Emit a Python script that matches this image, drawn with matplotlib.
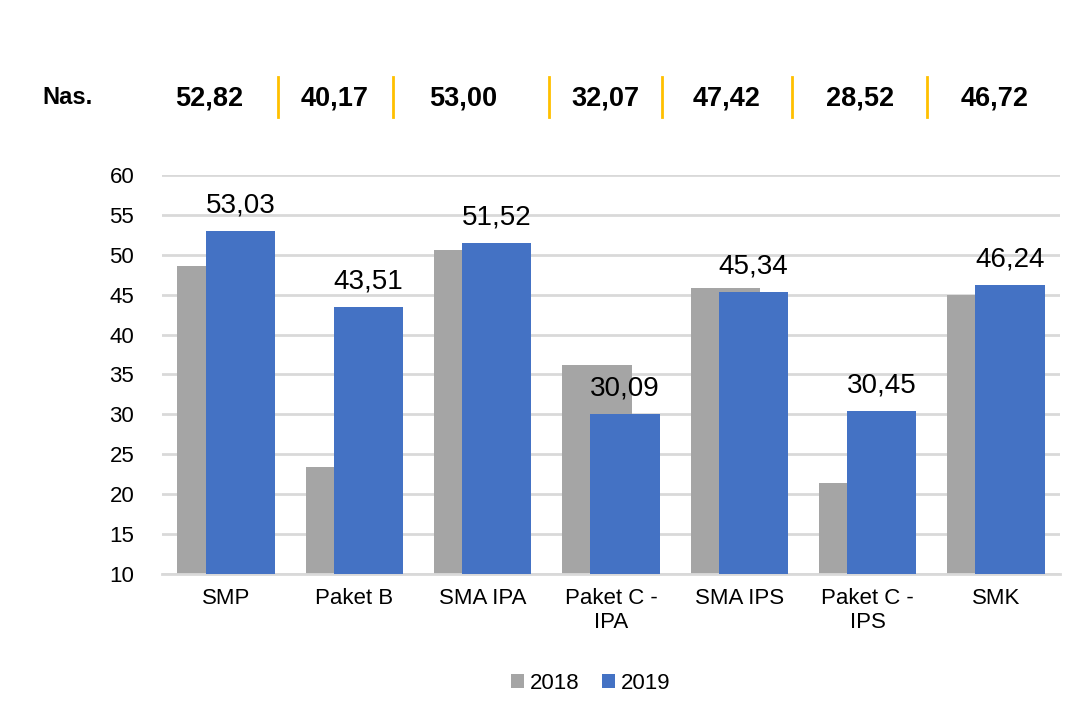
import numpy as np
import matplotlib
matplotlib.use('Agg')
import matplotlib.pyplot as plt

plt.rcParams['font.family'] = ['Liberation Sans', 'DejaVu Sans']

categories = ['SMP', 'Paket B', 'SMA IPA', 'Paket C -\nIPA', 'SMA IPS', 'Paket C -\nIPS', 'SMK']
vals_2018 = [48.6, 23.4, 50.6, 36.2, 45.9, 21.4, 44.9]
vals_2019 = [53.03, 43.51, 51.52, 30.09, 45.34, 30.45, 46.24]
labels_2019 = ['53,03', '43,51', '51,52', '30,09', '45,34', '30,45', '46,24']
nas_values = ['52,82', '40,17', '53,00', '32,07', '47,42', '28,52', '46,72']

# Figure, 1078x717 px
fig = plt.figure(figsize=(10.78, 7.17), dpi=100)
W, H = 1078, 717
ax = fig.add_axes([162 / W, 1 - 574 / H, 898 / W, 399 / H])

x = np.arange(len(categories))
w = 0.54
ax.bar(x - 0.11, vals_2018, width=w, color='#A5A5A5', label='2018', zorder=2)
bars = ax.bar(x + 0.11, vals_2019, width=w, color='#4472C4', label='2019', zorder=3)

for b, lab in zip(bars, labels_2019):
    ax.annotate(lab, (b.get_x() + b.get_width() / 2, b.get_height()),
                xytext=(0, 9), textcoords='offset points',
                ha='center', va='bottom', fontsize=20, zorder=4)

ax.set_ylim(10, 60)
ax.set_xlim(-0.5, 6.5)
ax.set_yticks(range(10, 61, 5))
ax.set_xticks(x)
ax.set_xticklabels(categories, fontsize=16)
ax.tick_params(axis='y', labelsize=16, length=0, pad=20)
ax.tick_params(axis='x', length=0, pad=10)
ax.grid(axis='y', color='#D9D9D9', linewidth=2, zorder=0)
for s in ['top', 'right', 'left']:
    ax.spines[s].set_visible(False)
ax.spines['bottom'].set_color('#D9D9D9')
ax.spines['bottom'].set_linewidth(2)

ax.legend(loc='center', bbox_to_anchor=(0.477, -0.275), ncol=2, frameon=False,
          fontsize=16, handlelength=0.6, handleheight=0.6, handletextpad=0.25,
          columnspacing=1.0)

# National average row at the top
fig.text(67 / W, 1 - 98 / H, 'Nas.', fontsize=17, fontweight='bold',
         ha='center', va='center')
nas_x = [209, 335, 463, 605, 727, 860, 995]
for xp, t in zip(nas_x, nas_values):
    fig.text(xp / W, 1 - 98 / H, t, fontsize=19.5, fontweight='bold',
             ha='center', va='center')
for xs in [278, 393, 549, 662, 792, 927]:
    fig.add_artist(plt.Line2D([xs / W, xs / W], [1 - 77 / H, 1 - 117 / H],
                              color='#FFC000', linewidth=2, transform=fig.transFigure))

fig.savefig('out.png', dpi=100)
